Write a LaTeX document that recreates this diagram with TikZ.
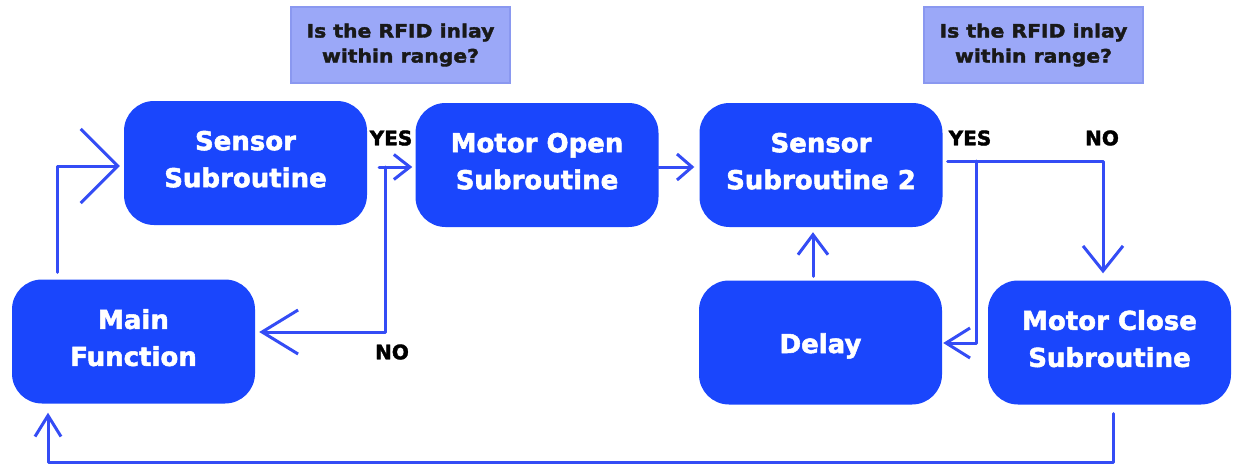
\documentclass[tikz,border=0pt]{standalone}
\usepackage{fontspec}
\newfontfamily\boxfont{DejaVu Sans}[BoldFeatures={FakeBold=2}]
\newfontfamily\tagfont{DejaVu Sans}[FakeStretch=1.1,BoldFeatures={FakeBold=2}]
\usetikzlibrary{arrows.meta,calc}
\definecolor{boxblue}{RGB}{26,70,252}
\definecolor{flowblue}{RGB}{52,76,245}
\definecolor{tagfill}{RGB}{155,168,248}
\definecolor{tagedge}{RGB}{138,152,240}
\begin{document}
\begin{tikzpicture}[x=1pt,y=-1pt,
  stage/.style={fill=boxblue, rounded corners=30pt, minimum width=243pt,
    minimum height=124pt, text=white, align=center, inner sep=0pt,
    text depth=8pt, font=\boxfont\bfseries\fontsize{26}{37}\selectfont},
  question/.style={fill=tagfill, draw=tagedge, line width=1.5pt,
    minimum width=219pt, minimum height=76pt, align=center, inner sep=0pt,
    text=black!90, font=\tagfont\bfseries\fontsize{18.5}{25}\selectfont},
  answer/.style={inner sep=0pt, text=black,
    font=\boxfont\bfseries\fontsize{20}{22}\selectfont},
  flow/.style={draw=flowblue, line width=3pt, line join=round, line cap=round},
]
\useasboundingbox (0,0) rectangle (1235,466);

% process stages
\node[stage] (sensor)    at (245.5,163)   {Sensor\\Subroutine};
\node[stage] (open)      at (537,165)     {Motor Open\\Subroutine};
\node[stage] (sensortwo) at (821,165)     {Sensor\\Subroutine 2};
\node[stage] (main)      at (133.5,341.5) {Main\\Function};
\node[stage, text depth=6pt, text height=27pt] (delay) at (820.5,342.5) {Delay};
\node[stage] (close)     at (1109.5,342.5){Motor Close\\Subroutine};

% decision questions
\node[question] (askone) at (400.5,45)  {Is the RFID inlay\\within range?};
\node[question] (asktwo) at (1033.5,45) {Is the RFID inlay\\within range?};

% branch answers
\node[answer] (yesone) at (391,138)  {YES};
\node[answer] (noone)  at (392,352)  {NO};
\node[answer] (yestwo) at (970,138)  {YES};
\node[answer] (notwo)  at (1102,138) {NO};

% main function starts the first sensor check
\draw[flow, -{Straight Barb[length=37pt,width=74pt]}]
  ($(main.north)+(-76.5,-7)$) |- ($(sensor.west)+(-4,3)$);

% first sensor: YES opens the motor, NO returns to main
\coordinate (split) at ($(sensor.east)+(18,4)$);
\draw[flow, -{Straight Barb[length=16pt,width=25pt]}]
  ($(sensor.east)+(12,4)$) -- ($(open.west |- split)+(-3,0)$);
\draw[flow, -{Straight Barb[length=36pt,width=44pt]}]
  (split) |- ($(main.east)+(4,-9.5)$);

% motor open leads to the second sensor check
\draw[flow, -{Straight Barb[length=15pt,width=26pt]}]
  ($(open.east)+(0,2)$) -- ($(sensortwo.west)+(-5,2)$);

% second sensor: NO closes the motor, YES waits
\coordinate (splittwo) at ($(sensortwo.east)+(34,-4)$);
\draw[flow, -{Straight Barb[length=25pt,width=40pt]}]
  ($(sensortwo.east)+(5,-4)$) -| ($(close.north)+(-6.5,-7)$);
\draw[flow, -{Straight Barb[length=24pt,width=30pt]}]
  (splittwo) |- ($(delay.east)+(1,0.5)$);

% delay loops back to the second sensor
\draw[flow, -{Straight Barb[length=20pt,width=30pt]}]
  ($(delay.north)+(-7.5,-4)$) -- ($(sensortwo.south)+(-8,5)$);

% motor close returns to main
\draw[flow, -{Straight Barb[length=21pt,width=26pt]}]
  ($(close.south)+(3.5,9)$) -- ++(0,49) -| ($(main.south)+(-85.5,9)$);
\end{tikzpicture}
\end{document}
